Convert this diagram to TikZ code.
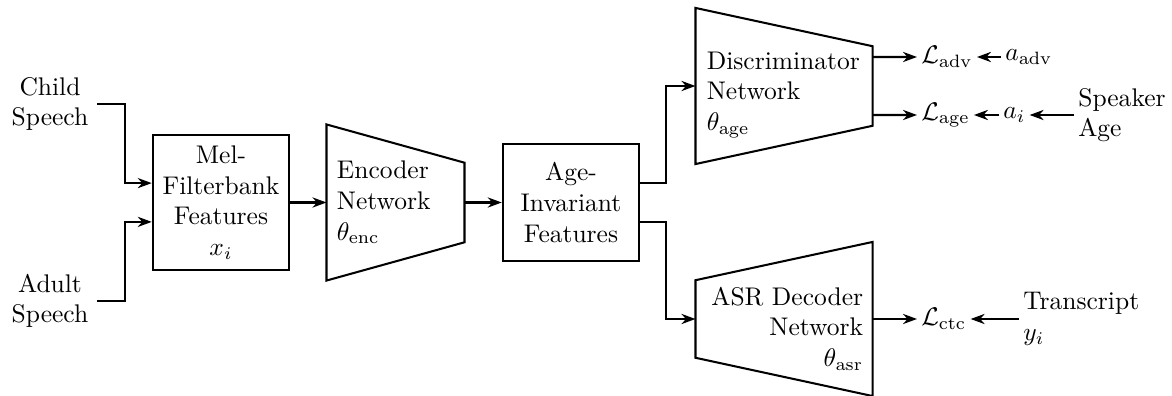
\documentclass[tikz,border=0pt]{standalone}
\usetikzlibrary{arrows.meta}
\begin{document}
\begin{tikzpicture}[
    x=0.392pt, y=-0.392pt,
    link/.style={thick, -{Stealth[length=5.5pt, width=4pt]}},
    feat/.style={draw, thick, align=center, minimum width=53.5pt},
    net/.style={minimum width=69pt, minimum height=60.8pt, inner sep=0pt},
    frame/.style={thick},
    term/.style={inner sep=1.5pt, anchor=west},
]

\useasboundingbox (0,0) rectangle (1172,396);

% Inputs
\node[align=center] (child) at (50,104) {Child\\Speech};
\node[align=center] (adult) at (50,301) {Adult\\Speech};

% Feature boxes
\node[feat, minimum height=52.9pt] (mel) at (221,202.5) {Mel-\\Filterbank\\Features\\$x_i$};
\node[feat, minimum height=45.9pt] (age) at (571,202.5) {Age-\\Invariant\\Features};

% Networks (frames, then their labels)
\node[net, minimum width=53.7pt] (enc) at (395.5,202.5) {};
\node[net, minimum height=60.8pt] (disc) at (784,86) {};
\node[net, minimum height=60pt] (asr) at (784,319) {};

\node[align=left, anchor=west, inner xsep=3.9pt] (enclabel) at (enc.west) {Encoder\\Network\\$\theta_{\mathrm{enc}}$};
\node[align=left, anchor=west, inner xsep=4.25pt] (disclabel) at ([yshift=-3.5pt]disc.west) {Discriminator\\Network\\$\theta_{\mathrm{age}}$};
\node[align=right, anchor=east, inner xsep=3.5pt] (asrlabel) at ([yshift=-3.7pt]asr.east) {ASR Decoder\\Network\\$\theta_{\mathrm{asr}}$};

% Trapezoid outlines
\foreach \n in {enc,disc}{
  \draw[frame] (\n.north west) -- ([yshift=-15pt]\n.north east) -- ([yshift=15pt]\n.south east) -- (\n.south west) -- cycle;
}
\draw[frame] (asr.north east) -- (asr.south east) -- ([yshift=15pt]asr.south west) -- ([yshift=-15pt]asr.north west) -- cycle;

% Losses and targets
\node[term] (ladv) at (917,57) {$\mathcal{L}_{\mathrm{adv}}$};
\node[term] (lage) at (917,115) {$\mathcal{L}_{\mathrm{age}}$};
\node[term] (lctc) at (917,319) {$\mathcal{L}_{\mathrm{ctc}}$};
\node[term] (aadv) at (1001,57) {$a_{\mathrm{adv}}$};
\node[term] (ai) at (999,115) {$a_i$};
\node[term, align=left] (spk) at (1074,115) {Speaker\\Age};
\node[term, align=left] (trans) at (1019,319) {Transcript\\$y_i$};

% Connectors
\draw[link] (child.east) -- ++(28,0) |- ([yshift=7.6pt]mel.west);
\draw[link] (adult.east) -- ++(28,0) |- ([yshift=-7.6pt]mel.west);
\draw[link] (mel) -- (enc);
\draw[link] (enc) -- (age);
\draw[link] ([yshift=7.6pt]age.east) -- ++(26,0) |- (disc.west);
\draw[link] ([yshift=-7.6pt]age.east) -- ++(26,0) |- (asr.west);
\draw[link] ([yshift=11.37pt]disc.east) -- (ladv.west);
\draw[link] ([yshift=-11.37pt]disc.east) -- (lage.west);
\draw[link] (asr) -- (lctc);
\draw[link] (aadv) -- (ladv);
\draw[link] (ai) -- (lage);
\draw[link] (spk) -- (ai);
\draw[link] (trans) -- (lctc);

\end{tikzpicture}
\end{document}
